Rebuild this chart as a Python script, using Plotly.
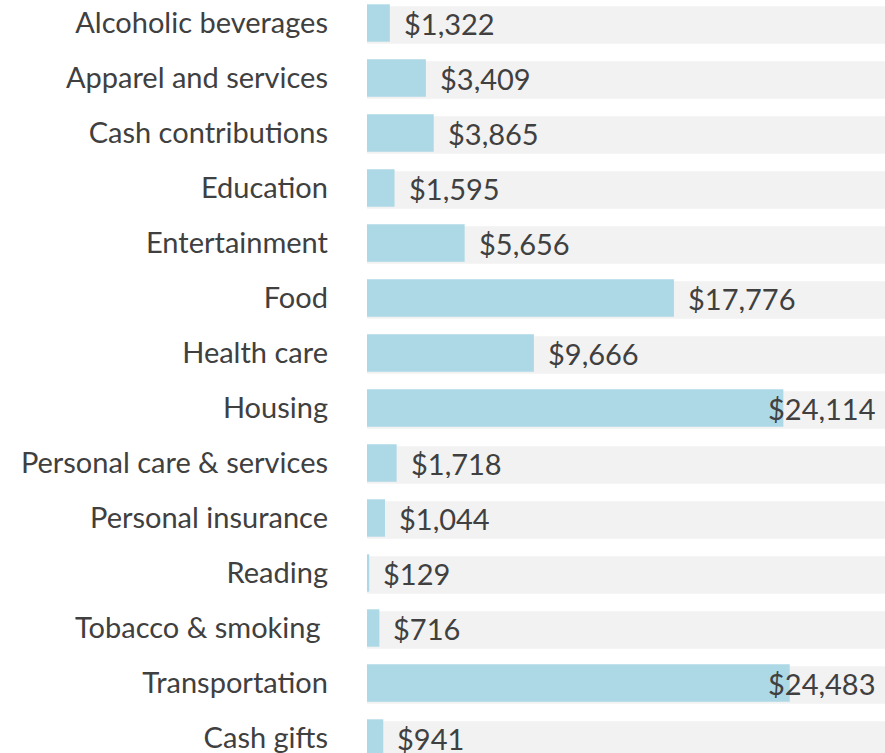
import plotly.graph_objects as go

categories = ["Alcoholic beverages", "Apparel and services", "Cash contributions", "Education",
              "Entertainment", "Food", "Health care", "Housing", "Personal care & services",
              "Personal insurance", "Reading", "Tobacco & smoking\u00a0", "Transportation", "Cash gifts"]
values = [1322, 3409, 3865, 1595, 5656, 17776, 9666, 24114, 1718, 1044, 129, 716, 24483, 941]
labels = ["$" + f"{v:,}" for v in values]
background_max = 30000

W, H = 885, 753
L = 367
plot_w = W - L
xmax = 30000
px_per_unit = plot_w / xmax
pitch = 55.0
top_center = 23.0
y_top = -top_center / pitch
y_bot = y_top + H / pitch

FONT = "Lato"
FS = 29
TXT = "#404040"

fig = go.Figure()
fig.add_trace(go.Bar(
    y=categories, x=[background_max] * len(categories), orientation="h",
    marker=dict(color="#F2F2F2", line=dict(width=0)),
    width=0.68, offset=-0.34 + 0.035, hoverinfo="skip", showlegend=False,
))
fig.add_trace(go.Bar(
    y=categories, x=values, orientation="h",
    marker=dict(color="#ADD8E6", line=dict(width=0)),
    width=0.68, offset=-0.34, showlegend=False,
))

right_limit_px = 877
char_w = 13.6
for cat, v, lab in zip(categories, values, labels):
    end_px = v * px_per_unit
    est_w = len(lab) * char_w
    common = dict(y=cat, text=lab, showarrow=False, yanchor="middle", height=30,
                  valign="middle", borderpad=0, font=dict(family=FONT, size=FS, color=TXT))
    if end_px + 15 + est_w > right_limit_px - L:
        fig.add_annotation(x=(right_limit_px - L) / px_per_unit, xanchor="right", **common)
    else:
        fig.add_annotation(x=v, xanchor="left", xshift=13, **common)

fig.update_layout(
    width=W, height=H,
    margin=dict(l=L, r=0, t=0, b=0),
    paper_bgcolor="white", plot_bgcolor="white",
    barmode="overlay",
    font=dict(family=FONT, size=FS, color=TXT),
)
fig.update_xaxes(range=[0, xmax], visible=False, fixedrange=True)
fig.update_yaxes(
    type="category", categoryorder="array", categoryarray=categories,
    range=[y_bot, y_top], showgrid=False, zeroline=False, showline=False,
    ticks="", ticklabelstandoff=38, automargin=False,
    tickfont=dict(family=FONT, size=FS, color=TXT),
)

fig.write_html("out.html", config={"displayModeBar": False},
               post_script="document.body.style.margin='0';document.body.style.overflow='hidden';")
